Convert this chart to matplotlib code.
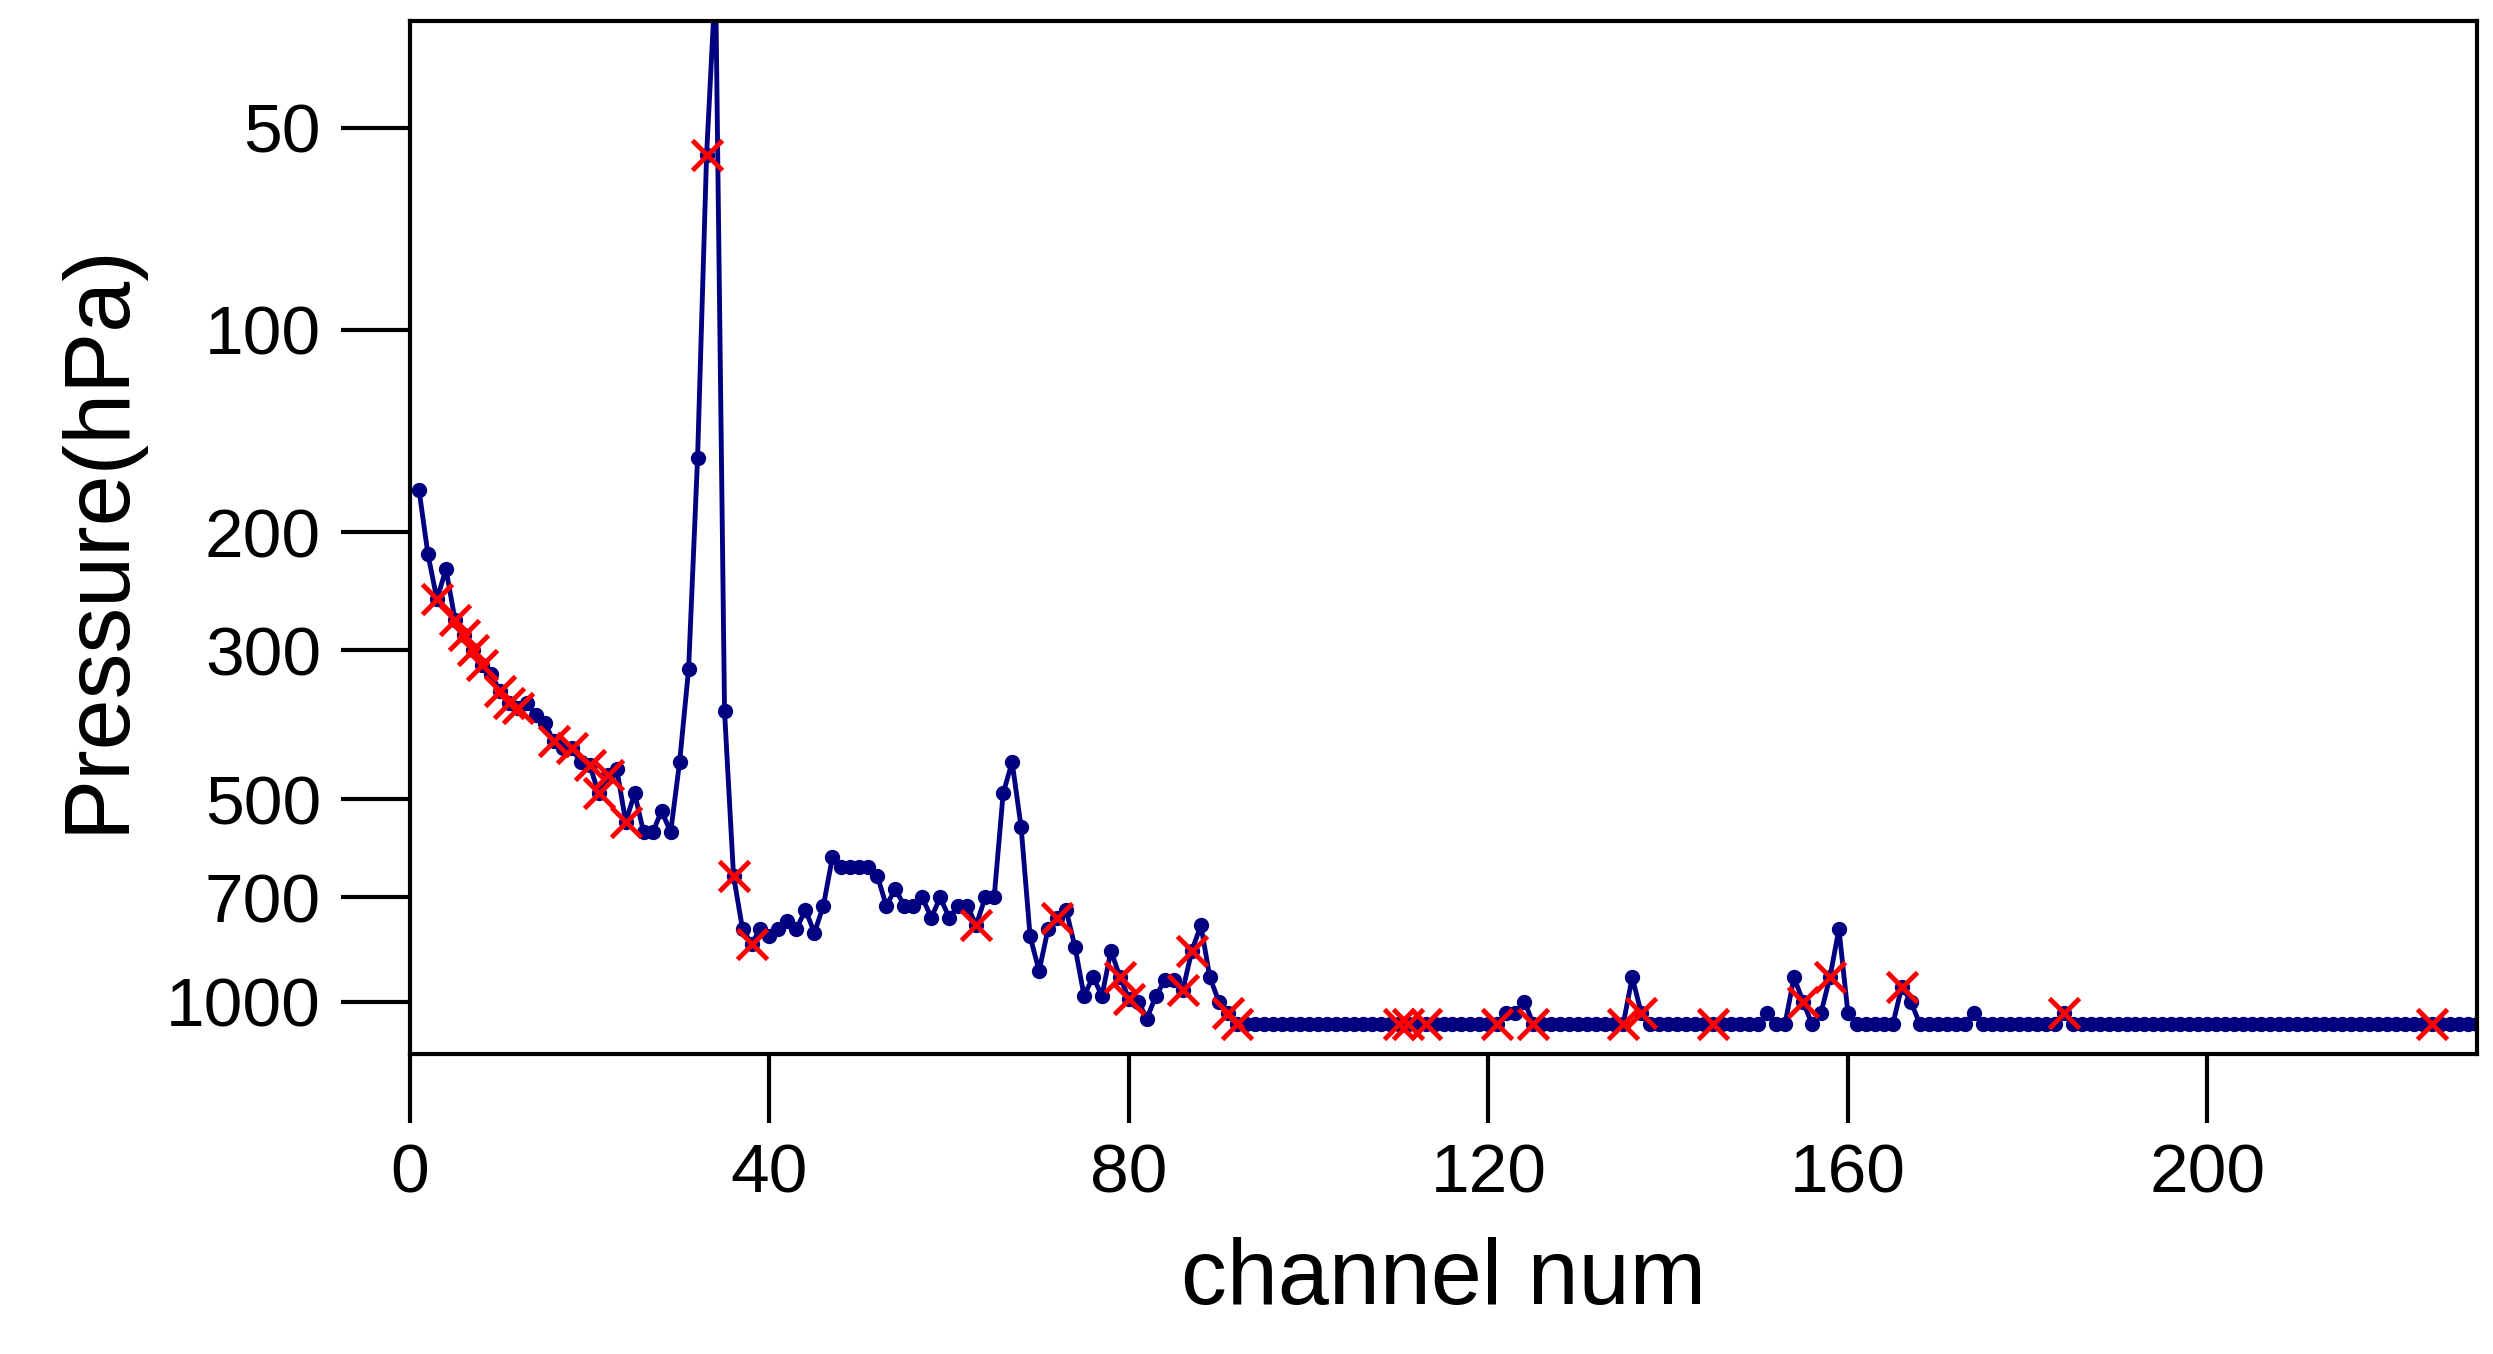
import numpy as np
import matplotlib
matplotlib.use("Agg")
import matplotlib.pyplot as plt
from matplotlib.ticker import FixedLocator, NullLocator, FixedFormatter

plt.rcParams['font.family'] = ['Liberation Sans', 'DejaVu Sans']

# pressure per channel (hPa), channels 1..230
head = [173, 216, 252, 227, 270, 285, 300, 315, 325, 345,
        360, 365, 360, 375, 385, 410, 420, 420, 440, 445,
        490, 460, 450, 540, 490, 560, 560, 520, 560, 440,
        320, 155, 55, 30, 370, 650, 780, 820, 780, 800,
        780, 760, 780, 730, 790, 720, 610, 630, 630, 630,
        630, 650, 720, 680, 720, 720, 700, 750, 700, 750,
        720, 720, 770, 700, 700, 490, 440, 550, 800, 900,
        780, 750, 730, 830, 980, 920, 980, 840, 920, 990,
        1000, 1060, 980, 930, 930, 960, 840, 770, 920, 1000,
        1040, 1080]
base = 1080
bumps = {122: 1040, 123: 1040, 124: 1000, 136: 920, 137: 1040, 151: 1040,
         154: 920, 155: 1000, 157: 1040, 158: 920, 159: 780, 160: 1040,
         166: 950, 167: 1000, 174: 1040, 184: 1040}
channels = np.arange(1, 231)
pressure = np.array([head[c - 1] if c <= len(head) else bumps.get(c, base) for c in channels], float)

# selected channels (red crosses)
selected = [3, 5, 6, 7, 8, 10, 11, 12, 16, 18, 20, 21, 22, 24, 33, 36, 38,
            63, 72, 79, 80, 86, 87, 91, 92, 110, 111, 113, 121, 125, 135,
            137, 145, 155, 158, 166, 184, 225]

fig = plt.figure(figsize=(24.93, 13.54), dpi=100)
ax = fig.add_axes([410 / 2493, 1 - 1054 / 1354, 2067 / 2493, 1033 / 1354])
ax.plot(channels, pressure, color="#000080", lw=3.5, marker="o", ms=10)
sel = np.array(selected)
ax.plot(sel, pressure[sel - 1], ls="none", marker="x", color="red", ms=22, mew=3.5)

ax.set_yscale("log")
ax.set_ylim(1197, 34.7)
ax.set_xlim(0, 230)
yt = [50, 100, 200, 300, 500, 700, 1000]
ax.yaxis.set_major_locator(FixedLocator(yt))
ax.yaxis.set_major_formatter(FixedFormatter([str(v) for v in yt]))
ax.yaxis.set_minor_locator(NullLocator())
ax.set_xticks([0, 40, 80, 120, 160, 200])
ax.tick_params(labelsize=50, length=50, width=3, pad=14)
for s in ax.spines.values():
    s.set_linewidth(3)
ax.set_xlabel("channel num", fontsize=66, labelpad=22)
ax.set_ylabel("Pressure(hPa)", fontsize=66, labelpad=18)
fig.savefig("out.png", dpi=100)
